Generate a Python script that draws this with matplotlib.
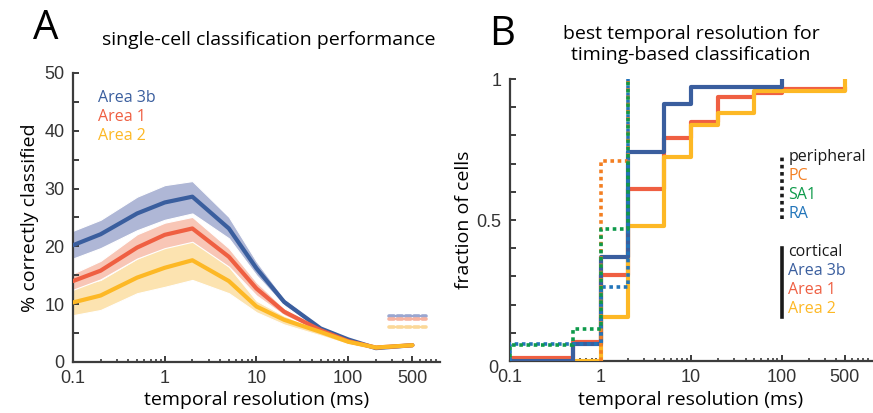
import numpy as np
import matplotlib
matplotlib.use('Agg')
import matplotlib.pyplot as plt
from matplotlib.ticker import FixedLocator, NullFormatter

# ── Panel A data: single-cell classification performance ─────
res_ms = [0.1, 0.2, 0.5, 1, 2, 5, 10, 20, 50, 100, 200, 500]

area3b_mean = [20.2, 22.1, 25.7, 27.6, 28.6, 23.1, 16.2, 10.4, 5.8, 3.9, 2.4, 2.9]
area3b_lo   = [17.9, 19.7, 22.8, 24.6, 25.7, 21.4, 15.0, 9.8, 5.4, 3.6, 2.1, 2.7]
area3b_hi   = [22.7, 24.6, 28.6, 30.6, 31.3, 25.1, 17.4, 11.0, 6.2, 4.2, 2.7, 3.1]

area1_mean = [14.0, 15.8, 19.8, 22.0, 23.1, 18.2, 12.7, 8.7, 5.5, 3.6, 2.5, 2.9]
area1_lo   = [12.5, 14.3, 17.9, 19.7, 20.8, 16.5, 11.5, 8.1, 5.2, 3.4, 2.3, 2.7]
area1_hi   = [15.3, 17.5, 22.1, 24.1, 25.1, 19.7, 13.8, 9.3, 5.8, 3.8, 2.7, 3.1]

area2_mean = [10.3, 11.5, 14.6, 16.3, 17.6, 14.0, 9.6, 7.3, 5.2, 3.5, 2.5, 2.9]
area2_lo   = [8.1, 9.0, 11.9, 13.0, 14.2, 11.9, 8.6, 6.5, 4.6, 3.1, 2.2, 2.7]
area2_hi   = [13.0, 14.2, 17.9, 19.9, 21.1, 16.5, 10.6, 8.0, 5.8, 3.9, 2.8, 3.1]

chance_x = [280, 700]
chance_3b, chance_1, chance_2 = 8.0, 7.4, 6.1

# ── Panel B data: cumulative fraction of cells (step edges) ───
b3_x = [0.1, 0.5, 1, 2, 5, 10, 100]
b3_y = [0.0, 0.06, 0.37, 0.742, 0.912, 0.970, 1.0]
a1_x = [0.1, 0.5, 1, 2, 5, 10, 20, 50, 100, 500]
a1_y = [0.012, 0.066, 0.305, 0.61, 0.79, 0.849, 0.937, 0.950, 0.965, 0.965]
a2_x = [0.1, 1, 2, 5, 10, 20, 50, 500]
a2_y = [0.0, 0.157, 0.48, 0.724, 0.838, 0.878, 0.958, 1.0]
pc_x = [1, 2]
pc_y = [0.708, 1.0]
sa1_x = [0.1, 0.5, 1, 2]
sa1_y = [0.058, 0.115, 0.468, 1.0]
ra_x = [0.1, 1, 2]
ra_y = [0.062, 0.262, 1.0]

# ── Styling ───────────────────────────────────────────────────
C_3B = '#3A5E9E'
C_A1 = '#EF5F42'
C_A2 = '#FDB825'
C_PC = '#F37F22'
C_SA1 = '#0E9A4A'
C_RA = '#2275BA'
BAND_3B = '#AFB7D6'
BAND_A1 = '#F8C6B6'
BAND_A2 = '#FCE3B0'
AX_COL = '#3C3C3C'

TXT = 'Open Sans'
NUM = 'Liberation Sans'

fig = plt.figure(figsize=(8.73, 4.13), dpi=100)
axA = fig.add_axes([0.0836, 0.1235, 0.4204, 0.6998])
axB = fig.add_axes([0.5842, 0.1259, 0.4147, 0.6828])

xticks = [0.1, 1, 10, 100, 500]
xtick_labels = ['0.1', '1', '10', '100', '500']
minor = [m * 10.0 ** e for e in range(-1, 3) for m in range(2, 10)]
minor = [v for v in minor if 0.1 < v < 1000 and v not in xticks]


def style_axis(ax):
    ax.set_xscale('log')
    ax.set_xlim(0.1, 1000)
    for s in ['top', 'right']:
        ax.spines[s].set_visible(False)
    for s in ['left', 'bottom']:
        ax.spines[s].set_color(AX_COL)
        ax.spines[s].set_linewidth(1.6)
    ax.xaxis.set_major_locator(FixedLocator(xticks))
    ax.set_xticklabels(xtick_labels, fontfamily=NUM, fontsize=13, color='#333333')
    ax.xaxis.set_minor_locator(FixedLocator(minor))
    ax.xaxis.set_minor_formatter(NullFormatter())
    ax.tick_params(which='major', direction='in', length=4, width=1.4, color=AX_COL, pad=6)
    ax.tick_params(which='minor', direction='in', length=2.5, width=1.2, color=AX_COL)
    ax.set_xlabel('temporal resolution (ms)', fontfamily=TXT, fontsize=14, labelpad=3)


# ── A ─────────────────────────────────────────────────────────
style_axis(axA)
axA.set_ylim(0, 50)
axA.yaxis.set_major_locator(FixedLocator([0, 10, 20, 30, 40, 50]))
axA.yaxis.set_minor_locator(FixedLocator([5, 15, 25, 35, 45]))
axA.tick_params(axis='y', which='minor', length=4, width=1.4)
for lbl in axA.get_yticklabels():
    lbl.set_fontfamily(NUM)
    lbl.set_fontsize(13)
    lbl.set_color('#333333')

for lo, hi, col in [(area2_lo, area2_hi, BAND_A2), (area1_lo, area1_hi, BAND_A1),
                    (area3b_lo, area3b_hi, BAND_3B)]:
    axA.fill_between(res_ms, lo, hi, color=col, edgecolor='white', linewidth=0.8, zorder=1)

for mean, col in [(area3b_mean, C_3B), (area1_mean, C_A1), (area2_mean, C_A2)]:
    axA.plot(res_ms, mean, color=col, linewidth=3, solid_joinstyle='round',
             solid_capstyle='round', zorder=3)

for lvl, col in [(chance_3b, '#9AA6D0'), (chance_1, '#F7B3A0'), (chance_2, '#FBD898')]:
    axA.plot(chance_x, [lvl, lvl], color=col, linewidth=2.6,
             linestyle=(0, (1.4, 0.9)), dash_capstyle='round', zorder=2)

axA.set_ylabel('% correctly classified', fontfamily=TXT, fontsize=14, labelpad=4)
for i, (name, col) in enumerate([('Area 3b', C_3B), ('Area 1', C_A1), ('Area 2', C_A2)]):
    axA.text(0.068, 0.915 - i * 0.066, name, transform=axA.transAxes, color=col,
             fontfamily=TXT, fontsize=11.5, va='center', ha='left')

axA.set_title('single-cell classification performance', fontfamily=TXT,
              fontsize=14, pad=20, x=0.534)
fig.text(0.052, 0.93, 'A', fontfamily=TXT, fontsize=29, ha='center', va='center')

# ── B ─────────────────────────────────────────────────────────
style_axis(axB)
axB.set_ylim(0, 1)
axB.yaxis.set_major_locator(FixedLocator([0, 0.5, 1]))
axB.set_yticklabels(['', '0.5', '1'])
axB.yaxis.set_minor_locator(FixedLocator(np.arange(0.1, 1.0, 0.1)))
axB.tick_params(axis='y', which='minor', length=4, width=1.4)
for lbl in axB.get_yticklabels():
    lbl.set_fontfamily(NUM)
    lbl.set_fontsize(13)
    lbl.set_color('#333333')
axB.text(-0.047, -0.025, '0', transform=axB.transAxes, fontfamily=NUM, fontsize=13,
         color='#333333', ha='center', va='center')


def cdf(ax, x, y, col, ls, lw, z, **kw):
    xs = np.r_[x[0], x]
    ys = np.r_[0.0, y]
    ax.step(xs, ys, where='post', color=col, linestyle=ls, linewidth=lw, zorder=z, **kw)


cdf(axB, a1_x, a1_y, C_A1, '-', 3, 3)
cdf(axB, a2_x, a2_y, C_A2, '-', 3, 3.1)
cdf(axB, b3_x, b3_y, C_3B, '-', 3, 3.2)
cdf(axB, ra_x, ra_y, C_RA, (0, (1, 1)), 2.6, 4)
cdf(axB, pc_x, pc_y, C_PC, (0, (1, 1)), 2.6, 4.1)
cdf(axB, sa1_x, sa1_y, C_SA1, (1, (1, 1)), 2.6, 4.2)

axB.set_ylabel('fraction of cells', fontfamily=TXT, fontsize=14, labelpad=3)
axB.set_title('best temporal resolution for\ntiming-based classification',
              fontfamily=TXT, fontsize=14, pad=14, linespacing=1.15)
fig.text(0.575, 0.915, 'B', fontfamily=TXT, fontsize=29, ha='center', va='center')

# legend blocks
bar_x = 0.75
axB.plot([bar_x, bar_x], [0.505, 0.735], transform=axB.transAxes, color='#1A1A1A',
         linewidth=2.6, linestyle=(0, (1, 1)), clip_on=False)
axB.plot([bar_x, bar_x], [0.155, 0.40], transform=axB.transAxes, color='#1A1A1A',
         linewidth=2.6, clip_on=False)
periph = [('peripheral', '#1A1A1A'), ('PC', C_PC), ('SA1', C_SA1), ('RA', C_RA)]
cortic = [('cortical', '#1A1A1A'), ('Area 3b', C_3B), ('Area 1', C_A1), ('Area 2', C_A2)]
for i, (name, col) in enumerate(periph):
    axB.text(bar_x + 0.019, 0.722 - i * 0.067, name, transform=axB.transAxes, color=col,
             fontfamily=TXT, fontsize=11.5, va='center', ha='left')
for i, (name, col) in enumerate(cortic):
    axB.text(bar_x + 0.019, 0.385 - i * 0.067, name, transform=axB.transAxes, color=col,
             fontfamily=TXT, fontsize=11.5, va='center', ha='left')

fig.savefig('out.png', dpi=100)
